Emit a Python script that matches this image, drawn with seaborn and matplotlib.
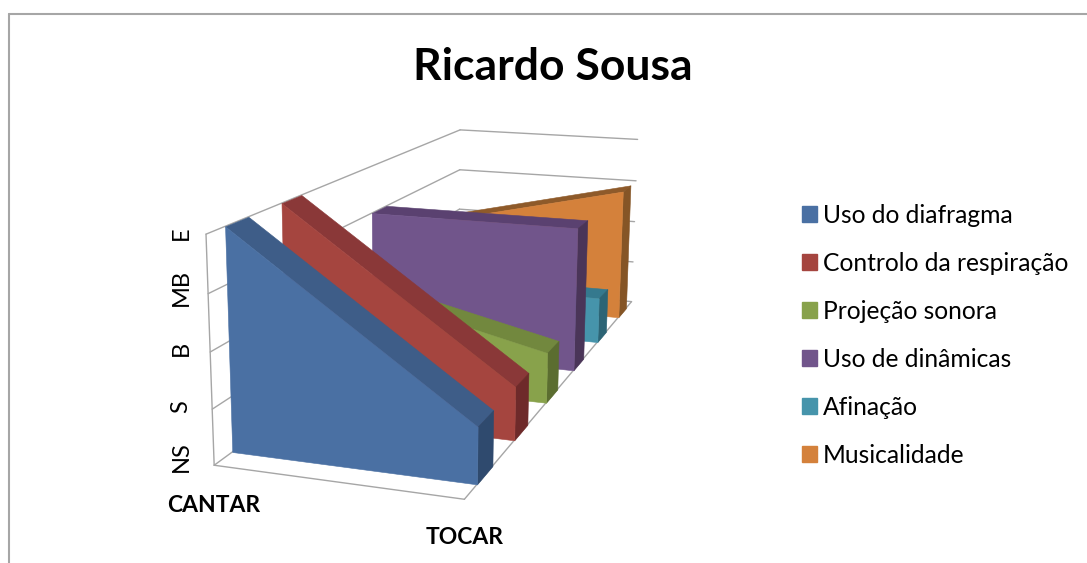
import matplotlib
matplotlib.use('Agg')
import matplotlib.pyplot as plt
import seaborn as sns
from matplotlib.lines import Line2D
from matplotlib.patches import Patch
from mpl_toolkits.mplot3d.art3d import Poly3DCollection

# values (0=NS ... 4=E)
title = "Ricardo Sousa"
categories = ["CANTAR", "TOCAR"]
levels = ["NS", "S", "B", "MB", "E"]
series_names = ["Uso do diafragma", "Controlo da respiração", "Projeção sonora",
                "Uso de dinâmicas", "Afinação", "Musicalidade"]
uso_diafragma = [4, 1]
controlo_respiracao = [4, 1]
projecao_sonora = [2, 1]
uso_dinamicas = [3, 3]
afinacao = [1, 1]
musicalidade = [2, 3]
series_values = [uso_diafragma, controlo_respiracao, projecao_sonora,
                 uso_dinamicas, afinacao, musicalidade]

front_colors = ["#4A70A3", "#A5453F", "#88A24B", "#71558B", "#4694AB", "#D4813B"]
top_colors = ["#3E5D88", "#8A3838", "#72883E", "#5A4170", "#35798E", "#8E5A2A"]
side_colors = ["#2F4A6E", "#6E2A2A", "#5B6D30", "#4A3558", "#2C6475", "#855526"]

W, H = 1087, 563
GRID = "#A6A6A6"

sns.set_theme(style="white")
plt.rcParams['font.family'] = ['Lato', 'DejaVu Sans']

fig = plt.figure(figsize=(W / 100, H / 100), dpi=100)
ax = fig.add_subplot(111, projection='3d', computed_zorder=False)
ax.set_axis_off()
ax.patch.set_visible(False)

# camera, fitted to the reference's walls and floor
n_series = len(series_names)
n_levels = len(levels) - 1
ax.set_xlim(0, 1)
ax.set_ylim(0, n_series)
ax.set_zlim(0, n_levels)
ax.view_init(13.714, -71.868, -0.472)
ax.set_proj_type('persp', focal_length=0.3831)
ax.set_box_aspect((1, 2.9509, 0.8971))
gap = 0.303
scale, cx, cy = 3720.72, 461.77, 274.71
x0, x1 = ax.viewLim.x0, ax.viewLim.x1
y0, y1 = ax.viewLim.y0, ax.viewLim.y1
ax.set_position([(cx + scale * x0) / W, (H - cy + scale * y0) / H,
                 scale * (x1 - x0) / W, scale * (y1 - y0) / H])

# walls and floor
z_order = 1
for level in range(n_levels + 1):
    ax.plot([0, 0], [0, n_series], [level, level], color=GRID, lw=1, zorder=z_order)
    ax.plot([0, 1], [n_series, n_series], [level, level], color=GRID, lw=1, zorder=z_order)
ax.plot([0, 0], [0, 0], [0, n_levels], color=GRID, lw=1, zorder=z_order)
ax.plot([0, 1], [0, 0], [0, 0], color=GRID, lw=1, zorder=z_order)
ax.plot([1, 1], [0, n_series], [0, 0], color=GRID, lw=1, zorder=z_order)

# areas, back to front
for i in reversed(range(n_series)):
    a, b = series_values[i]
    yf, yb = i + gap, i + 1 - gap
    faces = [
        ([(0, yf, a), (1, yf, b), (1, yb, b), (0, yb, a)], top_colors[i]),
        ([(1, yf, 0), (1, yb, 0), (1, yb, b), (1, yf, b)], side_colors[i]),
        ([(0, yf, 0), (1, yf, 0), (1, yf, b), (0, yf, a)], front_colors[i]),
    ]
    z_order += 1
    for verts, color in faces:
        poly = Poly3DCollection([verts], facecolors=color, edgecolors=color,
                                linewidths=0.4, zorder=z_order)
        ax.add_collection3d(poly, autolim=False)


def fx(px):
    return px / W


def fy(py):
    return 1 - py / H


fig.text(fx(553), fy(67), title, fontsize=32, fontweight='bold', color='black',
         ha='center', va='center')

# tick labels
level_y = [457, 407, 348, 288, 233]
for label, py in zip(levels, level_y):
    fig.text(fx(181), fy(py), label, fontsize=17, color='black', rotation=90,
             ha='center', va='center')
fig.text(fx(214), fy(506), categories[0], fontsize=16.5, fontweight='bold', color='black',
         ha='center', va='center')
fig.text(fx(465), fy(538), categories[1], fontsize=16.5, fontweight='bold', color='black',
         ha='center', va='center')

# legend
handles = [Patch(facecolor=c, edgecolor=c, label=n) for c, n in zip(front_colors, series_names)]
fig.legend(handles=handles, loc='upper left', bbox_to_anchor=(fx(797), fy(199)),
           frameon=False, fontsize=17.7, handlelength=0.6, handleheight=0.6,
           handletextpad=0.25, labelspacing=1.015, labelcolor='black',
           borderpad=0.2, borderaxespad=0)

# chart frame
fig.add_artist(Line2D([fx(9), fx(9)], [fy(14), fy(H)], color=GRID, lw=1.5))
fig.add_artist(Line2D([fx(9), fx(W)], [fy(14), fy(14)], color=GRID, lw=1.5))

fig.savefig("out.png", dpi=100)
plt.close(fig)
